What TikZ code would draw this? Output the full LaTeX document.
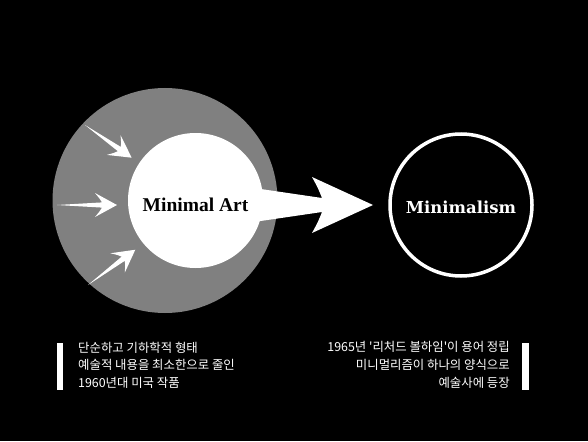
\documentclass[tikz,border=0pt]{standalone}
\usepackage{fontspec}
\setmainfont{Liberation Serif}
\newfontfamily\kofont{Noto Sans CJK KR}
\newfontfamily\dvserif{DejaVu Serif}
\definecolor{ringgray}{HTML}{808080}
\tikzset{
  korean/.style={text=white, font=\kofont\fontsize{12.4}{17.8}\selectfont, inner sep=0pt},
  sidebar/.style={fill=white, draw=none},
  smallarrow/.style={fill=white, draw=none},
}
\newcommand{\thinarrow}[3]{%
  \begin{scope}[shift={#1}, rotate=#2]
    \fill[smallarrow] (0,0) -- (#3-15,-2.6) .. controls (#3-17,-6) .. (#3-22,-12)
      -- (#3,0) -- (#3-22,12) .. controls (#3-17,6) .. (#3-15,2.6) -- cycle;
  \end{scope}}
\begin{document}
\begin{tikzpicture}[x=1pt,y=-1pt]
  \useasboundingbox[fill=black] (0,0) rectangle (588,441);
  % grey ring
  \fill[ringgray] (165,200.5) circle[radius=112.5];
  % big arrow
  \fill[white] (230,184.5) -- (322,198) .. controls (318,188) .. (312,177)
    -- (373,205) -- (312,233) .. controls (318,222) .. (322,212)
    -- (230,225.5) -- cycle;
  % white core
  \node[circle, fill=white, minimum size=135pt, inner sep=0pt] (core) at (195.5,200.5) {};
  \node[font=\bfseries\fontsize{19.5}{19.5}\selectfont, text=black] (art) at (core.center) [yshift=-4pt] {Minimal Art};
  % small arrows
  \thinarrow{(85,125)}{-35}{57}
  \thinarrow{(57,205)}{0}{60}
  \thinarrow{(88,285)}{36.7}{59}
  % minimalism circle
  \node[circle, draw=white, line width=3.5pt, minimum size=142pt, inner sep=0pt] (ism) at (461,205) {};
  \node[font=\dvserif\bfseries\fontsize{16.5}{16.5}\selectfont, text=white] (ismtext) at (ism.center) [yshift=-2pt] {Minimalism};
  % left text block
  \fill[sidebar] (57,343) rectangle (63,390);
  \node[korean, anchor=north west, align=left] (lefttext) at (78,341.5)
    {단순하고 기하학적 형태\\예술적 내용을 최소한으로 줄인\\1960년대 미국 작품};
  % right text block
  \fill[sidebar] (522,343) rectangle (529,390);
  \node[korean, anchor=north east, align=right] (righttext) at (510,341.5)
    {1965년 '리처드 볼하임'이 용어 정립\\미니멀리즘이 하나의 양식으로\\예술사에 등장};
\end{tikzpicture}
\end{document}
